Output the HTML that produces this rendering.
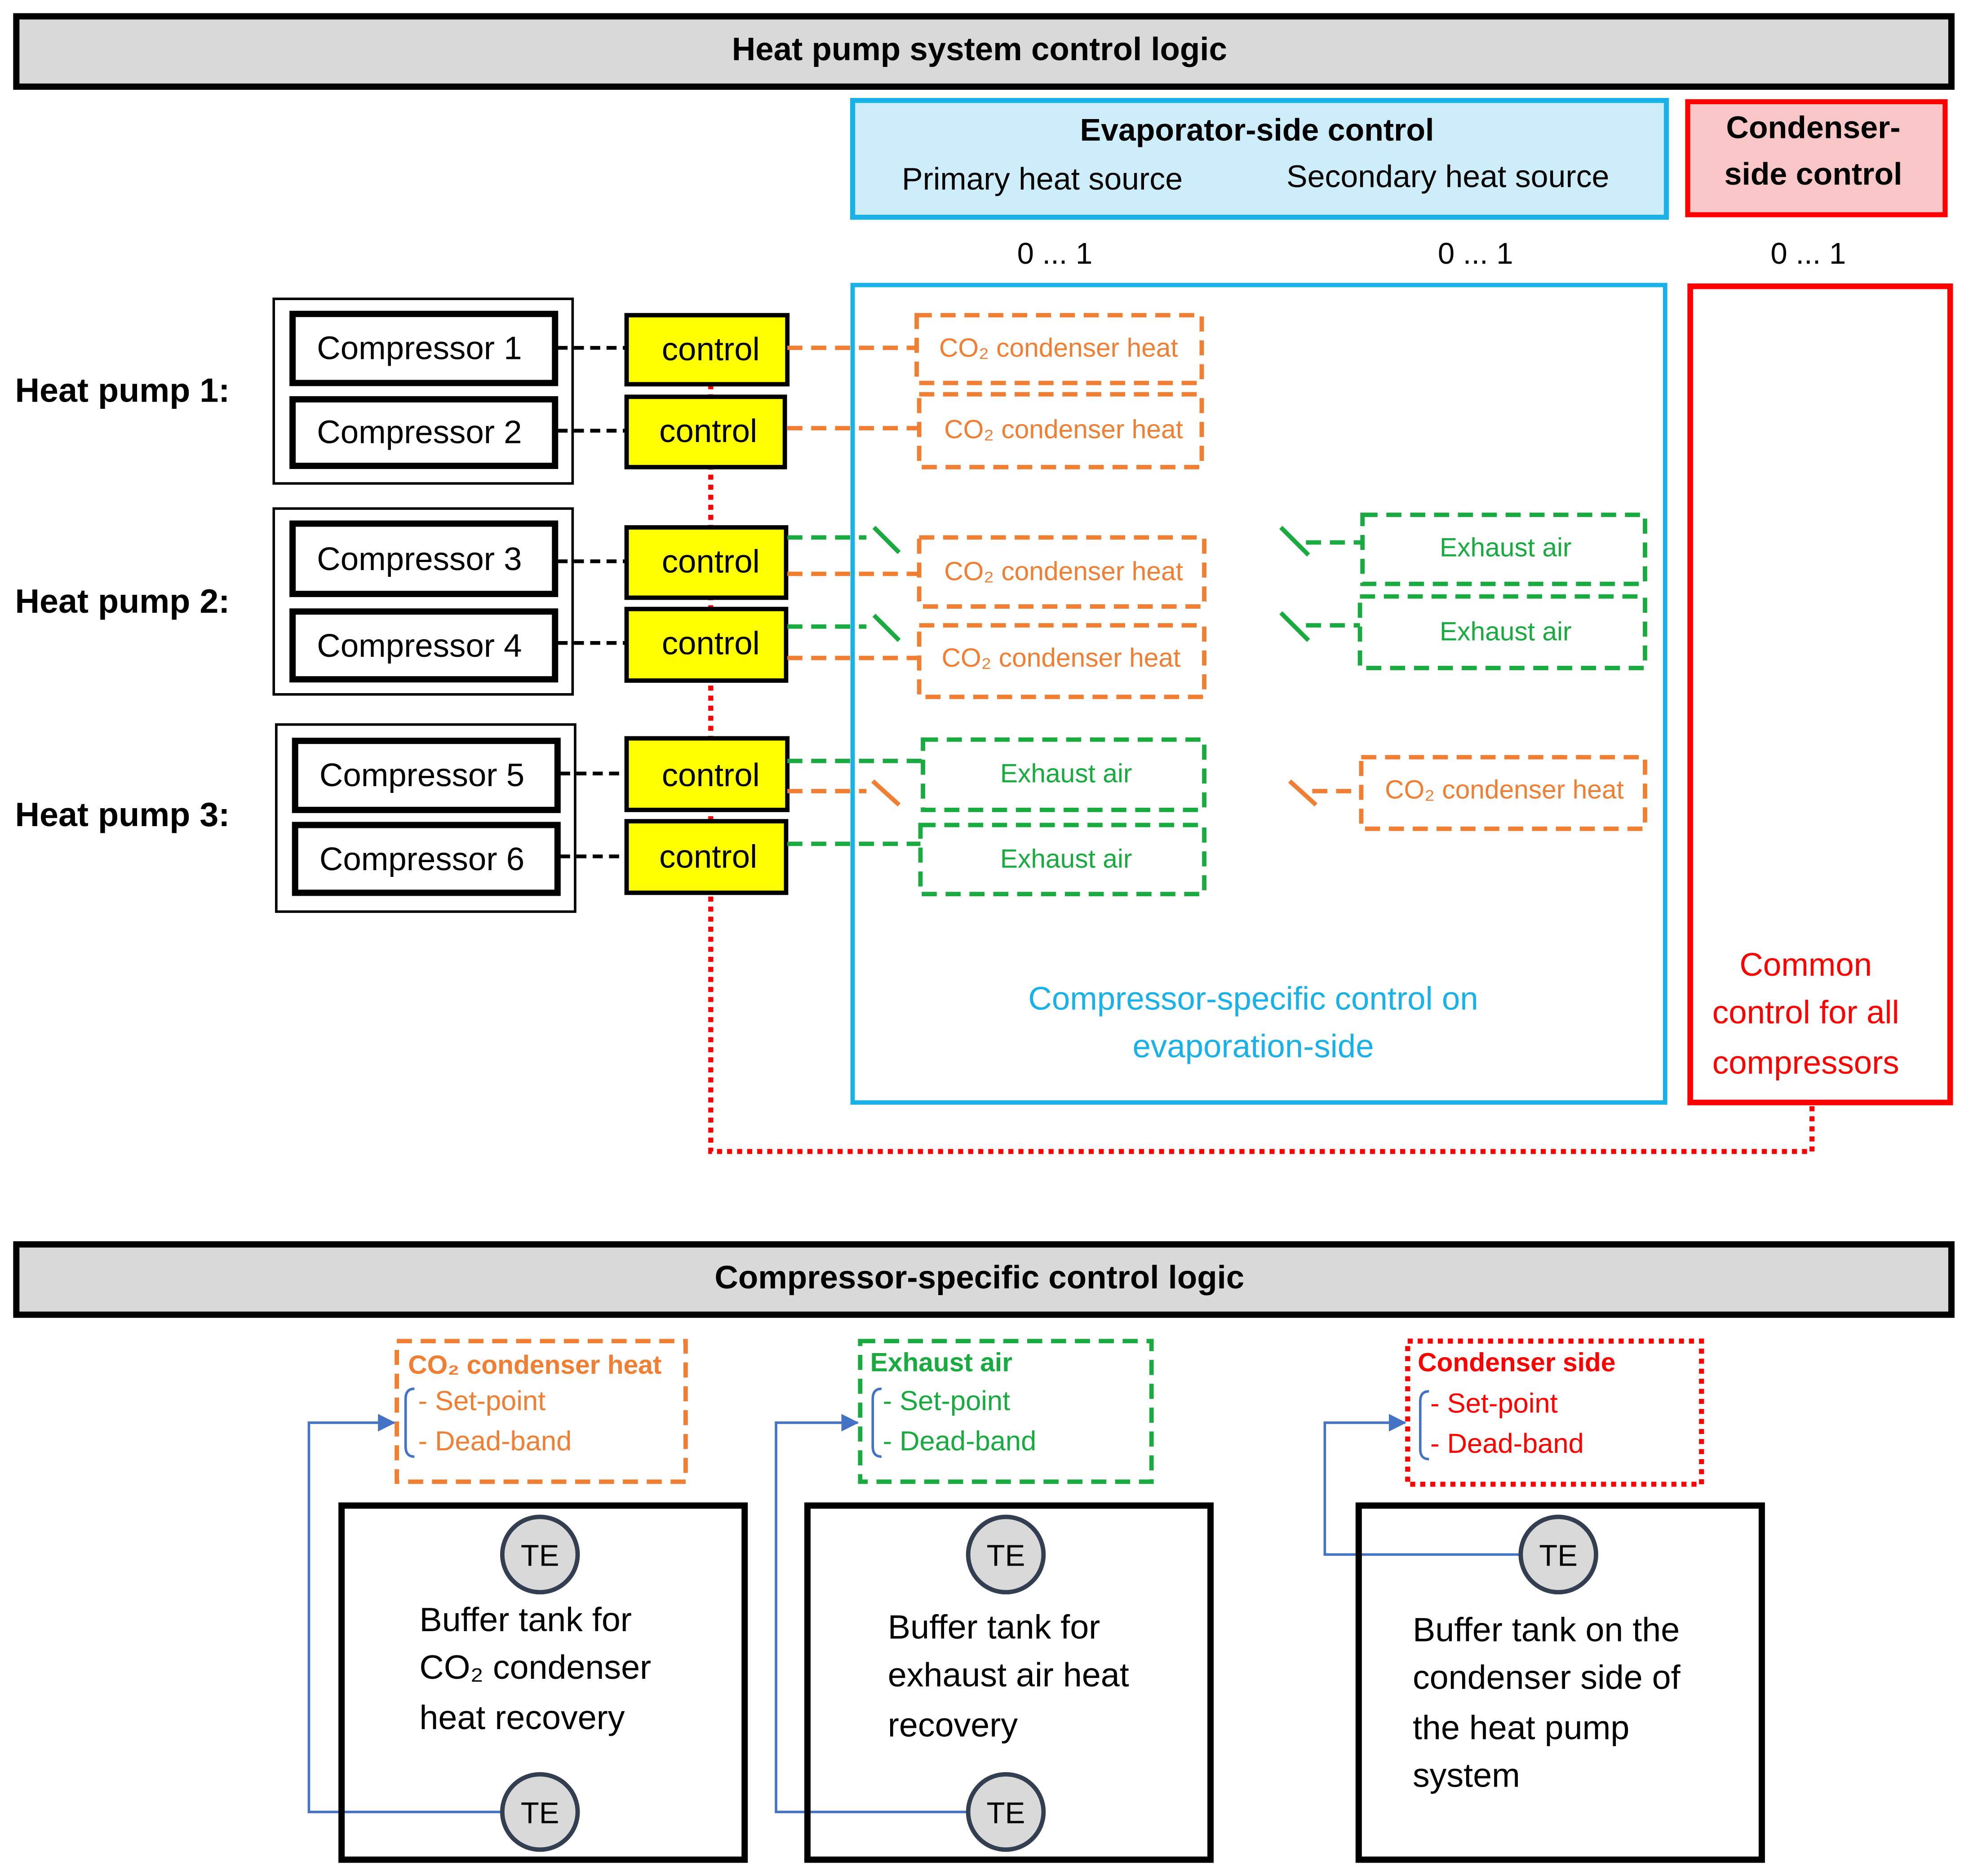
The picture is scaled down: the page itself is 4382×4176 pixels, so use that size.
<!DOCTYPE html>
<html><head><meta charset="utf-8"><style>
html,body{margin:0;padding:0;background:#fff;}
svg{display:block;}
text{font-family:"Liberation Sans",sans-serif;}
</style></head><body>
<svg width="4382" height="4176" viewBox="0 0 1568 1494" preserveAspectRatio="none" xmlns="http://www.w3.org/2000/svg">
<defs>
<marker id="ar" markerWidth="14" markerHeight="14" refX="13" refY="7" orient="auto" markerUnits="userSpaceOnUse" viewBox="0 0 14 14"><path d="M0,0 L14,7 L0,14 z" fill="#4472c4"/></marker>
</defs>
<rect x="0" y="0" width="1568" height="1494" fill="#fff"/>
<rect x="13" y="13" width="1541" height="56" fill="#d9d9d9" stroke="#000" stroke-width="5"/>
<text x="780" y="48" font-size="26" font-weight="bold" text-anchor="middle">Heat pump system control logic</text>
<rect x="679" y="80" width="648" height="93" fill="#ccedf9" stroke="#1ab0e8" stroke-width="4"/>
<text x="1001" y="112" font-size="25" font-weight="bold" text-anchor="middle">Evaporator-side control</text>
<text x="830" y="151" font-size="25" text-anchor="middle">Primary heat source</text>
<text x="1153" y="149" font-size="25" text-anchor="middle">Secondary heat source</text>
<rect x="1344" y="81" width="205" height="90" fill="#f8c6c6" stroke="#ff0000" stroke-width="4"/>
<text x="1444" y="110" font-size="25" font-weight="bold" text-anchor="middle">Condenser-</text>
<text x="1444" y="147" font-size="25" font-weight="bold" text-anchor="middle">side control</text>
<text x="840" y="210" font-size="24" text-anchor="middle">0 ... 1</text>
<text x="1175" y="210" font-size="24" text-anchor="middle">0 ... 1</text>
<text x="1440" y="210" font-size="24" text-anchor="middle">0 ... 1</text>
<rect x="679" y="227" width="647" height="651" fill="none" stroke="#1ab0e8" stroke-width="3.5"/>
<rect x="1346" y="228" width="207" height="650" fill="none" stroke="#ff0000" stroke-width="4.5"/>
<text x="998" y="804" font-size="26" fill="#1ab0e8" text-anchor="middle">Compressor-specific control on</text>
<text x="998" y="842" font-size="26" fill="#1ab0e8" text-anchor="middle">evaporation-side</text>
<text x="1438" y="777" font-size="26" fill="#ff0000" text-anchor="middle">Common</text>
<text x="1438" y="815" font-size="26" fill="#ff0000" text-anchor="middle">control for all</text>
<text x="1438" y="855" font-size="26" fill="#ff0000" text-anchor="middle">compressors</text>
<polyline points="566,306 566,917 1443,917 1443,878" fill="none" stroke="#ff0000" stroke-width="4" stroke-dasharray="4,4"/>
<text x="12" y="320" font-size="27" font-weight="bold">Heat pump 1:</text>
<text x="12" y="488" font-size="27" font-weight="bold">Heat pump 2:</text>
<text x="12" y="658" font-size="27" font-weight="bold">Heat pump 3:</text>
<rect x="218" y="238" width="238" height="147" fill="none" stroke="#000" stroke-width="2"/>
<rect x="218" y="405" width="238" height="148" fill="none" stroke="#000" stroke-width="2"/>
<rect x="220" y="577" width="238" height="149" fill="none" stroke="#000" stroke-width="2"/>
<g fill="#fff" stroke="#000" stroke-width="5">
<rect x="233" y="250" width="209" height="55"/>
<rect x="233" y="318" width="209" height="53"/>
<rect x="233" y="417" width="209" height="56"/>
<rect x="233" y="487" width="209" height="54"/>
<rect x="235" y="590" width="209" height="55"/>
<rect x="235" y="657" width="209" height="54"/>
</g>
<g font-size="26" text-anchor="middle">
<text x="334" y="286">Compressor 1</text>
<text x="334" y="353">Compressor 2</text>
<text x="334" y="454">Compressor 3</text>
<text x="334" y="523">Compressor 4</text>
<text x="336" y="626">Compressor 5</text>
<text x="336" y="693">Compressor 6</text>
</g>
<g stroke="#000" stroke-width="3" stroke-dasharray="8,5">
<line x1="444" y1="277" x2="499" y2="277"/>
<line x1="444" y1="343" x2="499" y2="343"/>
<line x1="444" y1="447" x2="499" y2="447"/>
<line x1="444" y1="512" x2="499" y2="512"/>
<line x1="446" y1="616" x2="499" y2="616"/>
<line x1="446" y1="682" x2="499" y2="682"/>
</g>
<g fill="#ffff00" stroke="#000" stroke-width="3.5">
<rect x="499" y="251" width="128" height="55"/>
<rect x="499" y="316" width="126" height="56"/>
<rect x="499" y="420" width="127" height="56"/>
<rect x="499" y="485" width="127" height="57"/>
<rect x="499" y="588" width="128" height="57"/>
<rect x="499" y="654" width="127" height="57"/>
</g>
<g font-size="26" text-anchor="middle">
<text x="566" y="287">control</text>
<text x="564" y="352">control</text>
<text x="566" y="456">control</text>
<text x="566" y="521">control</text>
<text x="566" y="626">control</text>
<text x="564" y="691">control</text>
</g>
<g fill="none" stroke="#f07f33" stroke-width="3.5" stroke-dasharray="12,7">
<rect x="730" y="251" width="227" height="54"/>
<rect x="732" y="314" width="225" height="58"/>
<rect x="732" y="428" width="227" height="55"/>
<rect x="732" y="498" width="227" height="57"/>
<rect x="1084" y="603" width="226" height="57"/>
<line x1="627" y1="277" x2="730" y2="277"/>
<line x1="627" y1="341" x2="732" y2="341"/>
<line x1="627" y1="457" x2="732" y2="457"/>
<line x1="627" y1="524" x2="732" y2="524"/>
<line x1="627" y1="630" x2="690" y2="630"/>
<line x1="1045" y1="630" x2="1084" y2="630"/>
</g>
<g stroke="#f07f33" stroke-width="3.5">
<line x1="695" y1="622" x2="716" y2="641"/>
<line x1="1027" y1="622" x2="1048" y2="641"/>
</g>
<g fill="none" stroke="#1aab40" stroke-width="3.5" stroke-dasharray="12,7">
<rect x="1085" y="410" width="225" height="55"/>
<rect x="1083" y="475" width="227" height="57"/>
<rect x="735" y="589" width="224" height="56"/>
<rect x="733" y="657" width="226" height="55"/>
<line x1="627" y1="428" x2="690" y2="428"/>
<line x1="627" y1="499" x2="690" y2="499"/>
<line x1="1040" y1="432" x2="1085" y2="432"/>
<line x1="1040" y1="498" x2="1083" y2="498"/>
<line x1="627" y1="606" x2="735" y2="606"/>
<line x1="627" y1="672" x2="733" y2="672"/>
</g>
<g stroke="#1aab40" stroke-width="3.5">
<line x1="696" y1="420" x2="716" y2="440"/>
<line x1="696" y1="490" x2="716" y2="510"/>
<line x1="1020" y1="420" x2="1042" y2="442"/>
<line x1="1020" y1="488" x2="1042" y2="510"/>
</g>
<g font-size="21" fill="#f07f33" text-anchor="middle">
<text x="843" y="284">CO₂ condenser heat</text>
<text x="847" y="349">CO₂ condenser heat</text>
<text x="847" y="462">CO₂ condenser heat</text>
<text x="845" y="531">CO₂ condenser heat</text>
<text x="1198" y="636">CO₂ condenser heat</text>
</g>
<g font-size="21" fill="#1aab40" text-anchor="middle">
<text x="1199" y="443">Exhaust air</text>
<text x="1199" y="510">Exhaust air</text>
<text x="849" y="623">Exhaust air</text>
<text x="849" y="691">Exhaust air</text>
</g>
<rect x="13" y="991" width="1541" height="56" fill="#d9d9d9" stroke="#000" stroke-width="5"/>
<text x="780" y="1026" font-size="26" font-weight="bold" text-anchor="middle">Compressor-specific control logic</text>
<rect x="316" y="1068" width="230" height="112" fill="none" stroke="#f07f33" stroke-width="3.5" stroke-dasharray="12,7"/>
<rect x="685" y="1068" width="232" height="112" fill="none" stroke="#1aab40" stroke-width="3.5" stroke-dasharray="12,7"/>
<rect x="1121" y="1068" width="234" height="114" fill="none" stroke="#ff0000" stroke-width="4" stroke-dasharray="4,4"/>
<text x="325" y="1094" font-size="21" font-weight="bold" fill="#f07f33">CO₂ condenser heat</text>
<text x="333" y="1123" font-size="22" fill="#f07f33">- Set-point</text>
<text x="333" y="1155" font-size="22" fill="#f07f33">- Dead-band</text>
<text x="693" y="1092" font-size="21" font-weight="bold" fill="#1aab40">Exhaust air</text>
<text x="703" y="1123" font-size="22" fill="#1aab40">- Set-point</text>
<text x="703" y="1155" font-size="22" fill="#1aab40">- Dead-band</text>
<text x="1129" y="1092" font-size="21" font-weight="bold" fill="#ff0000">Condenser side</text>
<text x="1139" y="1125" font-size="22" fill="#ff0000">- Set-point</text>
<text x="1139" y="1157" font-size="22" fill="#ff0000">- Dead-band</text>
<g fill="none" stroke="#4472c4" stroke-width="2">
<path d="M330,1106 q-7,0 -7,8 v38 q0,8 7,8"/>
<path d="M702,1106 q-7,0 -7,8 v38 q0,8 7,8"/>
<path d="M1138,1108 q-7,0 -7,8 v38 q0,8 7,8"/>
<polyline points="400,1443 246,1443 246,1133 314,1133" marker-end="url(#ar)"/>
<polyline points="771,1443 618,1443 618,1133 683,1133" marker-end="url(#ar)"/>
<polyline points="1211,1238 1055,1238 1055,1133 1119,1133" marker-end="url(#ar)"/>
</g>
<g fill="none" stroke="#000" stroke-width="5">
<rect x="272" y="1199" width="321" height="282"/>
<rect x="643" y="1199" width="321" height="282"/>
<rect x="1082" y="1199" width="321" height="282"/>
</g>
<g fill="#d9d9d9" stroke="#333f50" stroke-width="3.5">
<circle cx="430" cy="1238" r="30"/>
<circle cx="430" cy="1443" r="30"/>
<circle cx="801" cy="1238" r="30"/>
<circle cx="801" cy="1443" r="30"/>
<circle cx="1241" cy="1238" r="30"/>
</g>
<g font-size="24" text-anchor="middle">
<text x="430" y="1247">TE</text>
<text x="430" y="1452">TE</text>
<text x="801" y="1247">TE</text>
<text x="801" y="1452">TE</text>
<text x="1241" y="1247">TE</text>
</g>
<g font-size="27">
<text x="334" y="1299">Buffer tank for</text>
<text x="334" y="1337">CO₂ condenser</text>
<text x="334" y="1377">heat recovery</text>
<text x="707" y="1305">Buffer tank for</text>
<text x="707" y="1343">exhaust air heat</text>
<text x="707" y="1383">recovery</text>
<text x="1125" y="1307">Buffer tank on the</text>
<text x="1125" y="1345">condenser side of</text>
<text x="1125" y="1385">the heat pump</text>
<text x="1125" y="1423">system</text>
</g>
</svg>
</body></html>
